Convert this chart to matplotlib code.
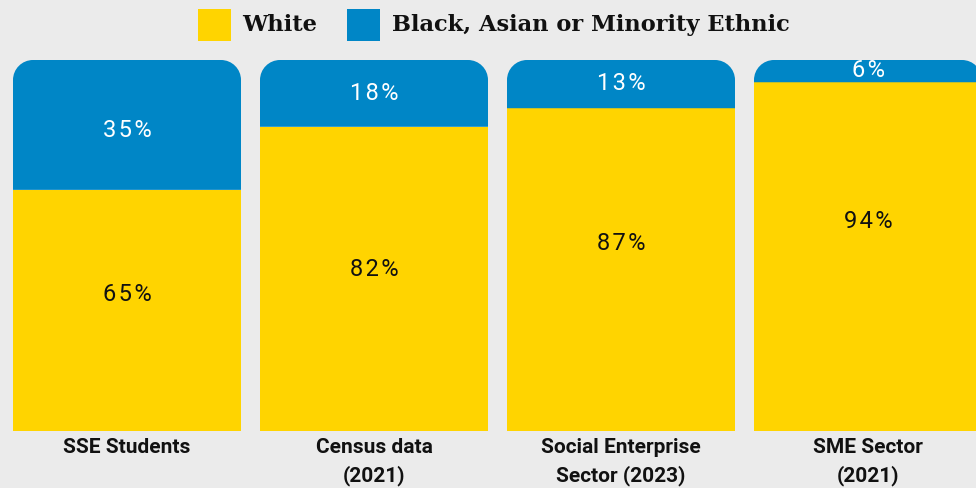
import matplotlib.pyplot as plt
from matplotlib.path import Path
from matplotlib.patches import PathPatch, Rectangle

# --- Data ---
categories = ["SSE Students", "Census data\n(2021)", "Social Enterprise\nSector (2023)", "SME Sector\n(2021)"]
white = [65, 82, 87, 94]
bame = [35, 18, 13, 6]

# vertical spots for the value labels (in % units)
white_label_y = [36.7, 43.6, 50.5, 56.6]
bame_label_y = [81.0, 91.1, 93.8, 97.3]

YELLOW = "#FFD400"
BLUE = "#0086C6"
BG = "#EBEBEB"
INK = "#111111"

W, H, DPI = 976, 488, 100
fig = plt.figure(figsize=(W / DPI, H / DPI), dpi=DPI, facecolor=BG)

# plot area: bars run from y=431px (0%) up to y=60px (100%)
ax = fig.add_axes([0, (H - 431) / H, 1, 371 / H])
ax.set_facecolor(BG)
pitch = 247  # px between bar starts
ax.set_xlim(-127 / pitch, (W - 127) / pitch)
ax.set_ylim(0, 100)
bar_w = 228 / pitch

# corner radius of 20px expressed in data units
rx = 20 / pitch
ry = 20 / (371 / 100)
k = 0.5523


def rounded_top(x0, y0, w, h):
    x1, y1 = x0 + w, y0 + h
    verts = [
        (x0, y0),
        (x0, y1 - ry),
        (x0, y1 - ry + k * ry), (x0 + rx - k * rx, y1), (x0 + rx, y1),
        (x1 - rx, y1),
        (x1 - rx + k * rx, y1), (x1, y1 - ry + k * ry), (x1, y1 - ry),
        (x1, y0),
        (x0, y0),
    ]
    codes = [Path.MOVETO, Path.LINETO,
             Path.CURVE4, Path.CURVE4, Path.CURVE4,
             Path.LINETO,
             Path.CURVE4, Path.CURVE4, Path.CURVE4,
             Path.LINETO, Path.CLOSEPOLY]
    return Path(verts, codes)


def spaced(s):
    # loose tracking with hair spaces between letters
    return "\u200a".join(s)


pct_font = dict(family=["Roboto", "DejaVu Sans"], fontsize=17)
for i, (wv, bv) in enumerate(zip(white, bame)):
    x0 = i - bar_w / 2
    ax.add_patch(Rectangle((x0, 0), bar_w, wv, facecolor=YELLOW, edgecolor="none"))
    ax.add_patch(PathPatch(rounded_top(x0, wv, bar_w, bv), facecolor=BLUE, edgecolor="none"))
    ax.text(i, white_label_y[i], spaced(f"{wv}%"), ha="center", va="center", color=INK, **pct_font)
    ax.text(i, bame_label_y[i], spaced(f"{bv}%"), ha="center", va="center", color="white", **pct_font)

ax.set_xticks(range(len(categories)))
ax.set_xticklabels(categories, family=["Roboto", "DejaVu Sans"],
                   fontweight="bold", fontsize=15, color=INK, linespacing=1.5)
ax.tick_params(axis="x", length=0, pad=5)
ax.set_yticks([])
for s in ax.spines.values():
    s.set_visible(False)

# legend across the top
legend_items = [("White", YELLOW, 198, 242), ("Black, Asian or Minority Ethnic", BLUE, 347, 392)]
for label, col, sq_x, tx in legend_items:
    fig.add_artist(Rectangle((sq_x / W, (H - 41) / H), 33 / W, 32 / H,
                             transform=fig.transFigure, facecolor=col, edgecolor="none"))
    fig.text(tx / W, (H - 31) / H, label, family="DejaVu Serif", fontweight="bold",
             fontsize=16.2, color=INK, ha="left", va="baseline")

fig.savefig("out.png", dpi=DPI, facecolor=BG)
